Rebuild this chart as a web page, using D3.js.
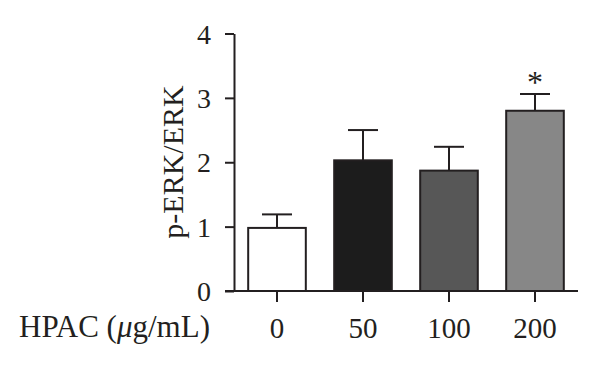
<!DOCTYPE html>
<html>
<head>
<meta charset="utf-8">
<script src="https://cdn.jsdelivr.net/npm/d3@7"></script>
<style>
  body { margin: 0; background: #fff; }
  text { font-family: "Liberation Serif", "DejaVu Serif", serif; fill: #231f20; }
</style>
</head>
<body>
<div id="chart"></div>
<script>
const doses = ['0', '50', '100', '200'];
const means = [0.98, 2.03, 1.87, 2.80];
const errors = [0.21, 0.47, 0.37, 0.26];
const fills = ['#ffffff', '#1c1c1c', '#575757', '#878787'];
const stars = ['', '', '', '*'];
const yTicks = [0, 1, 2, 3, 4];

function barPlot() {
  const width = 600;
  const height = 366;
  const ink = '#231f20';

  const svg = d3.select('#chart')
    .append('svg')
    .attr('width', width)
    .attr('height', height);

  const x = d3.scaleBand()
    .domain(doses)
    .range([234, 578])
    .paddingInner(0.33)
    .paddingOuter(0.165);

  const y = d3.scaleLinear()
    .domain([0, 4])
    .range([291, 33.5]);

  const data = doses.map((d, i) => ({ dose: d, mean: means[i], err: errors[i], fill: fills[i], star: stars[i] }));

  // bars
  svg.selectAll('rect.bar')
    .data(data)
    .enter()
    .append('rect')
    .attr('class', 'bar')
    .attr('x', d => x(d.dose))
    .attr('y', d => y(d.mean))
    .attr('width', x.bandwidth())
    .attr('height', d => y(0) - y(d.mean))
    .style('fill', d => d.fill)
    .style('stroke', ink)
    .style('stroke-width', 2);

  // error bars (upper only)
  const cx = d => x(d.dose) + x.bandwidth() / 2;
  const capHalf = 15;
  svg.selectAll('line.err')
    .data(data)
    .enter()
    .append('line')
    .attr('x1', cx).attr('x2', cx)
    .attr('y1', d => y(d.mean)).attr('y2', d => y(d.mean + d.err))
    .style('stroke', ink).style('stroke-width', 2);

  svg.selectAll('line.cap')
    .data(data)
    .enter()
    .append('line')
    .attr('x1', d => cx(d) - capHalf).attr('x2', d => cx(d) + capHalf)
    .attr('y1', d => y(d.mean + d.err)).attr('y2', d => y(d.mean + d.err))
    .style('stroke', ink).style('stroke-width', 2);

  svg.selectAll('text.star')
    .data(data)
    .enter()
    .append('text')
    .attr('x', cx)
    .attr('y', d => y(d.mean + d.err) - 1)
    .attr('text-anchor', 'middle')
    .style('font-size', '32px')
    .text(d => d.star);

  // y axis
  const yAxis = svg.append('g')
    .attr('transform', 'translate(234,0)')
    .call(d3.axisLeft(y).tickValues(yTicks).tickFormat(d3.format('d')).tickSize(9).tickPadding(14).tickSizeOuter(0));
  yAxis.select('.domain').style('stroke', ink).style('stroke-width', 2);
  yAxis.selectAll('.tick line').style('stroke', ink).style('stroke-width', 2);
  yAxis.selectAll('.tick text')
    .style('font-size', '28px')
    .style('font-family', '"Liberation Serif", serif')
    .attr('fill', ink)
    .attr('dy', '0.34em');

  // x axis
  const xAxis = svg.append('g')
    .attr('transform', `translate(0,${y(0)})`)
    .call(d3.axisBottom(x).tickSize(11).tickPadding(15).tickSizeOuter(0));
  xAxis.select('.domain').remove();
  xAxis.append('line')
    .attr('x1', 225).attr('x2', 578)
    .style('stroke', ink).style('stroke-width', 2);
  xAxis.selectAll('.tick line').style('stroke', ink).style('stroke-width', 2);
  xAxis.selectAll('.tick text')
    .style('font-size', '29px')
    .style('font-family', '"Liberation Serif", serif')
    .attr('fill', ink);

  // x label
  const xl = svg.append('text')
    .attr('x', 210)
    .attr('y', 337)
    .attr('text-anchor', 'end')
    .style('font-size', '31px');
  xl.append('tspan').text('HPAC (');
  xl.append('tspan').style('font-style', 'italic').text('μ');
  xl.append('tspan').text('g/mL)');

  // y title
  svg.append('text')
    .attr('transform', 'translate(183,162) rotate(-90)')
    .attr('text-anchor', 'middle')
    .style('font-size', '30px')
    .text('p-ERK/ERK');
}

window.onload = function () {
  barPlot();
};
</script>
</body>
</html>
